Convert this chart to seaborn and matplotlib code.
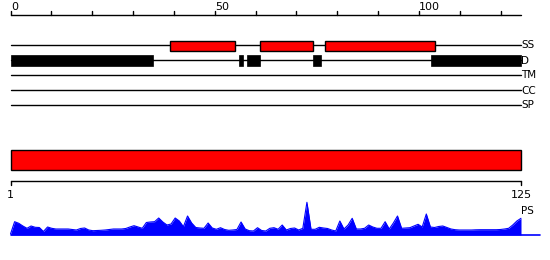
import matplotlib
matplotlib.use("Agg")
import matplotlib.pyplot as plt
import seaborn as sns
import pandas as pd

sns.set_theme(style="white")
plt.rcParams['font.family'] = ['DejaVu Sans']

# ---------------- data ----------------
seq_len = 125
track_names = ["SS", "D", "TM", "CC", "SP"]
top_ticks = list(range(0, 126, 10))
top_tick_labels = {0: "0", 50: "50", 100: "100"}

ss_starts = [39, 61, 77]
ss_ends = [55, 74, 104]

d_starts = [0, 56, 58, 74, 103]
d_ends = [35, 57, 61, 76, 125]

bottom_tick_pos = [1, 125]
bottom_tick_labels = ["1", "125"]

residues = list(range(1, 126))
ps_values = [
    1, 13.3, 11.7, 9, 6.7, 9, 7.7, 7.5, 3.5, 8,
    6.7, 6, 6, 6, 6, 5.5, 5, 6.5, 7, 5,
    4.3, 4.5, 4.7, 5, 5.5, 6, 6, 6, 6.5, 8,
    9.3, 8, 6.7, 12.5, 13, 13.3, 17, 13, 10, 11,
    17, 14, 8.3, 19, 12, 7.5, 7, 6.7, 12, 7,
    5.7, 7.3, 5.5, 4.7, 5, 5.5, 13, 6, 4.3, 4,
    7.3, 4.5, 4, 6.7, 7.3, 5.7, 10, 5, 6.5, 7,
    5, 6.7, 32.7, 5.7, 5.7, 7.7, 7, 6.5, 5, 4,
    14, 6, 10, 16.7, 6, 6, 6.7, 10, 8, 6.7,
    6.7, 13.3, 6, 12, 19, 6.7, 7, 7.3, 9, 10.7,
    8, 21, 8, 7.5, 8.5, 9, 7.5, 6, 5.3, 5,
    5, 5, 5, 5.2, 5.3, 5.3, 5.3, 5.3, 5.3, 5.5,
    6, 6.7, 10, 14, 16.7,
]
ps_df = pd.DataFrame({"residue": residues, "ps": ps_values})

# ---------------- figure ----------------
W, H = 550, 260
fig = plt.figure(figsize=(W / 100, H / 100), dpi=100)
fig.patch.set_facecolor("white")

# top panel (0..125 scale, pixel rows on y)
ax = fig.add_axes([0, 0, 1, 1])
ppu = (521 - 10.5) / 125
ax.set_xlim(-10.5 / ppu, 125 + (W - 521) / ppu)
ax.set_ylim(H, 0)
ax.axis("off")

ax.plot([0, seq_len], [15, 15], color="black", lw=1)
for t in top_ticks:
    ax.plot([t, t], [15, 10.5], color="black", lw=1)
    if t in top_tick_labels:
        ax.text(t + 0.1, 10.5, top_tick_labels[t], ha="left", va="baseline",
                fontsize=8, color="black")

row_y = [45, 60, 75, 90, 105]
for name, y in zip(track_names, row_y):
    ax.plot([0, seq_len], [y, y], color="black", lw=1, zorder=1)
    ax.text(seq_len + 0.1, y + 0.5, name, ha="left", va="center",
            fontsize=7.5, color="black")

ax.barh([45.5] * len(ss_starts), [e - s for s, e in zip(ss_starts, ss_ends)],
        left=ss_starts, height=10, color="#ff0000", edgecolor="black",
        linewidth=1, zorder=2)
ax.barh([60.3] * len(d_starts), [e - s for s, e in zip(d_starts, d_ends)],
        left=d_starts, height=10.7, color="black", edgecolor="black",
        linewidth=0.5, zorder=2)

# bottom panel (1..125 scale)
ax2 = fig.add_axes([0, 0, 1, 1])
ppu2 = (521 - 10.5) / 124
xl2 = (1 - 10.5 / ppu2, 125 + (W - 521) / ppu2)
ax2.set_xlim(*xl2)
ax2.set_ylim(H, 0)
ax2.axis("off")

ax2.barh([160.3], [seq_len - 1], left=[1], height=20, color="#ff0000",
         edgecolor="black", linewidth=1)
ax2.plot([1, seq_len], [180.5, 180.5], color="black", lw=1)
for p, lab in zip(bottom_tick_pos, bottom_tick_labels):
    ax2.plot([p, p], [180.5, 185], color="black", lw=1)
    ax2.text(p, 195, lab, ha="center", va="center", fontsize=8, color="black")
ax2.text(seq_len + 0.1, 211, "PS", ha="left", va="center", fontsize=7.5,
         color="black")

# PS area profile
ax3 = fig.add_axes([0, (H - 235) / H, 1, 45 / H])
ax3.set_xlim(*xl2)
ax3.set_ylim(0, 45)
ax3.axis("off")
sns.lineplot(data=ps_df, x="residue", y="ps", color="#0000ff", lw=0.8, ax=ax3)
ax3.fill_between(ps_df["residue"], ps_df["ps"], color="#0000ff", lw=0)
ax3.plot([1, 129.6], [0, 0], color="#0000ff", lw=1.2, clip_on=False)

fig.savefig("out.png", dpi=100, facecolor="white")
